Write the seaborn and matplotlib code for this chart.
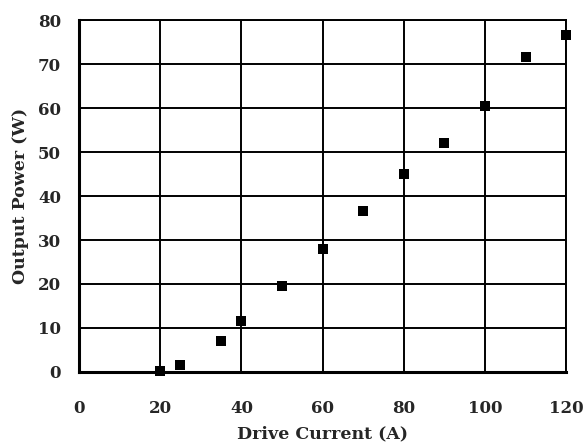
import matplotlib
matplotlib.use("Agg")
import matplotlib.pyplot as plt
import seaborn as sns
import pandas as pd

# Data
current = [20, 25, 35, 40, 50, 60, 70, 80, 90, 100, 110, 120]
power = [0.2, 1.5, 7.0, 11.5, 19.5, 28.0, 36.5, 45.0, 52.0, 60.5, 71.5, 76.5]
x_ticks = [0, 20, 40, 60, 80, 100, 120]
y_ticks = [0, 10, 20, 30, 40, 50, 60, 70, 80]

df = pd.DataFrame({"Drive Current (A)": current, "Output Power (W)": power})

sns.set_style("white")
plt.rcParams["font.family"] = ["DejaVu Serif", "Liberation Serif"]
plt.rcParams["font.weight"] = "bold"

fig = plt.figure(figsize=(5.85, 4.46), dpi=100)
ax = fig.add_axes([0.135, 0.166, 0.833, 0.789])

sns.scatterplot(x="Drive Current (A)", y="Output Power (W)", data=df,
                marker="s", s=55, color="black", edgecolor="black",
                linewidth=0, ax=ax, zorder=3, clip_on=False)

ax.set_xlim(0, 120)
ax.set_ylim(0, 80)
ax.set_xticks(x_ticks)
ax.set_yticks(y_ticks)
ax.grid(True, color="black", linewidth=1.4)
for sp in ax.spines.values():
    sp.set_visible(True)
    sp.set_color("black")
    sp.set_linewidth(1.4)
ax.spines["left"].set_linewidth(2.2)
ax.spines["bottom"].set_linewidth(2.2)

ax.tick_params(axis="x", direction="out", length=5, width=1.5, pad=15,
               labelsize=12, color="black")
ax.tick_params(axis="y", direction="out", length=5, width=1.5, pad=8,
               labelsize=12, color="black")
for lab in ax.get_xticklabels() + ax.get_yticklabels():
    lab.set_fontweight("bold")

ax.set_xlabel("Drive Current (A)", fontsize=12.5, fontweight="bold", labelpad=6)
ax.set_ylabel("Output Power (W)", fontsize=12.5, fontweight="bold", labelpad=6)

fig.savefig("out.png", dpi=100)
plt.close(fig)
